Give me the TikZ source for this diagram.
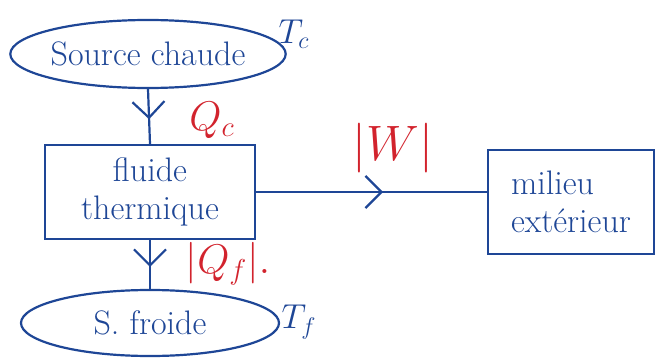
\documentclass[tikz,border=0pt]{standalone}
\usepackage{amsmath}
\usepackage{tikz}
\usetikzlibrary{shapes.geometric,decorations.markings,arrows.meta}
\definecolor{ink}{RGB}{30,70,150}
\definecolor{redink}{RGB}{210,35,45}
\tikzstyle{source} = [draw=ink, text=ink, line width=1.1pt, ellipse, inner sep=0pt,
    font=\fontsize{17}{19}\selectfont]
\tikzstyle{mybox} = [draw=ink, text=ink, line width=1.1pt, rectangle, inner sep=4pt,
    align=center, font=\fontsize{17}{19}\selectfont]
\tikzstyle{flow} = [draw=ink, line width=1.1pt, postaction={decorate},
    decoration={markings, mark=at position 0.55 with {\arrow{Straight Barb[length=8pt,width=16pt]}}}]
\tikzstyle{qty} = [text=redink, font=\fontsize{20}{22}\selectfont]
\tikzstyle{temp} = [text=ink, font=\fontsize{17}{19}\selectfont]

\begin{document}
\begin{tikzpicture}[x=0.5pt, y=-0.5pt]
    \useasboundingbox (0,0) rectangle (659,358);
    \node [source, minimum width=136pt, minimum height=34pt] (chaude) at (148,54) {Source chaude};
    \node [temp] (tc) at (294,34) {$T_c$};
    \node [mybox, minimum width=105pt, minimum height=47pt] (fluide) at (150,192) {fluide\\thermique};
    \node [source, minimum width=129pt, minimum height=33pt] (froide) at (150,323) {S. froide};
    \node [temp] (tf) at (299,322) {$T_f$};
    \node [mybox, minimum width=83pt, minimum height=52pt, align=left] (milieu) at (571,202) {milieu\\extérieur};

    \draw [flow] (chaude.south) -- (fluide.north);
    \draw [flow] (fluide.south) -- (froide.north);
    \draw [flow] (fluide.east) -- (fluide.east -| milieu.west);

    \node [qty] (qc) at (212,120) {$Q_c$};
    \node [qty] (qf) at (228,264) {$|Q_f|.$};
    \node [qty, font=\fontsize{24}{26}\selectfont] (w) at (393,148) {$|W|$};
\end{tikzpicture}
\end{document}
